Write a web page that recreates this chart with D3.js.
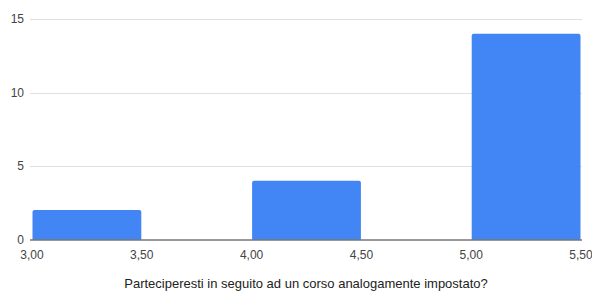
<!doctype html>
<html lang="it">
<head>
  <meta charset="utf-8">
  <title>istogramma</title>
  <script src="https://cdn.jsdelivr.net/npm/d3@7"></script>
  <style>
    body { margin: 0; background: #fff; }
    text { font-family: Arial, "Liberation Sans", sans-serif; }
  </style>
</head>
<body>
<svg id="chart" width="592" height="291"></svg>
<script>
  // dati
  var binStart = [3.0, 4.0, 5.0];
  var binEnd = [3.5, 4.5, 5.5];
  var counts = [2, 4, 14];
  var xTicks = [3.0, 3.5, 4.0, 4.5, 5.0, 5.5];
  var yTicks = [0, 5, 10, 15];
  var xTitle = "Parteciperesti in seguito ad un corso analogamente impostato?";

  var svg = d3.select("#chart");
  var padL = 32, padR = 581, padT = 19, padB = 239.5;

  var x = d3.scaleLinear().domain([3, 5.5]).range([padL, padR]);
  var y = d3.scaleLinear().domain([0, 15]).range([padB, padT]);

  // griglia
  svg.append("g").selectAll("line")
    .data(yTicks.filter(function(d) { return d > 0; }))
    .enter().append("line")
    .attr("x1", padL - 2).attr("x2", padR + 1)
    .attr("y1", function(d) { return Math.round(y(d)) + 0.5; })
    .attr("y2", function(d) { return Math.round(y(d)) + 0.5; })
    .attr("stroke", "#e0e0e0").attr("stroke-width", 1);

  // barre
  svg.append("g").selectAll("path")
    .data(counts)
    .enter().append("path")
    .attr("fill", "#4285f4")
    .attr("d", function(d, i) {
      var x0 = x(binStart[i]) + 0.5, x1 = x(binEnd[i]) - 0.5;
      var y0 = y(d), y1 = padB, r = 2;
      return "M" + x0 + "," + y1 + "V" + (y0 + r) + "Q" + x0 + "," + y0 + " " + (x0 + r) + "," + y0 +
        "H" + (x1 - r) + "Q" + x1 + "," + y0 + " " + x1 + "," + (y0 + r) + "V" + y1 + "Z";
    });

  // asse x
  svg.append("line")
    .attr("x1", padL - 2).attr("x2", padR + 1)
    .attr("y1", padB + 0.5).attr("y2", padB + 0.5)
    .attr("stroke", "#333").attr("stroke-width", 1);

  var fmt = function(d) { return d3.format(".2f")(d).replace(".", ","); };

  svg.append("g").selectAll("text")
    .data(xTicks)
    .enter().append("text")
    .attr("x", function(d) { return x(d); })
    .attr("y", 259)
    .attr("text-anchor", "middle")
    .attr("font-size", 12)
    .attr("fill", "#444")
    .text(fmt);

  svg.append("g").selectAll("text")
    .data(yTicks)
    .enter().append("text")
    .attr("x", 24)
    .attr("y", function(d) { return y(d) + 4; })
    .attr("text-anchor", "end")
    .attr("font-size", 12)
    .attr("fill", "#444")
    .text(function(d) { return d; });

  svg.append("text")
    .attr("x", 306)
    .attr("y", 288)
    .attr("text-anchor", "middle")
    .attr("font-size", 13)
    .attr("fill", "#222")
    .text(xTitle);
</script>
</body>
</html>
